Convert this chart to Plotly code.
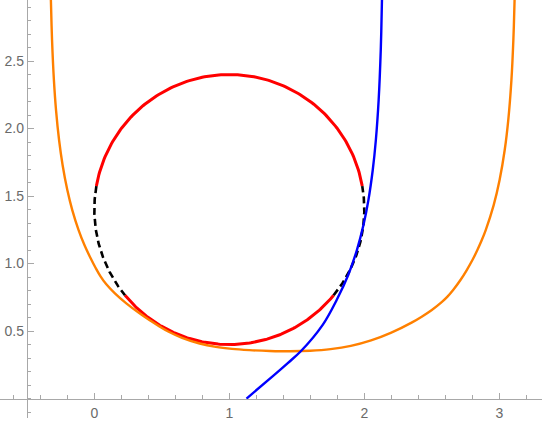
import numpy as np
import plotly.graph_objects as go

# ---- data ----
orange_x = [-0.3239, -0.3216, -0.3130, -0.2992, -0.2835, -0.2610, -0.2349, -0.1998, -0.1631, -0.1163,
            -0.0731, -0.0280, 0.0102, 0.0449, 0.0874, 0.1526, 0.2348, 0.3326, 0.4141, 0.4852,
            0.5474, 0.650, 0.780, 0.900, 1.020, 1.150, 1.300, 1.450, 1.600, 1.750,
            1.900, 2.050, 2.200, 2.350, 2.425, 2.500, 2.575, 2.6175, 2.6593, 2.7121,
            2.7588, 2.8007, 2.8373, 2.8701, 2.8991, 2.9581, 3.0019, 3.0398, 3.0662, 3.0895,
            3.1039, 3.1129, 3.1153]
orange_y = [3.063, 2.952, 2.656, 2.359, 2.137, 1.915, 1.730, 1.544, 1.396, 1.248,
            1.137, 1.041, 0.967, 0.907, 0.848, 0.779, 0.707, 0.633, 0.578, 0.533,
            0.497, 0.450, 0.408, 0.383, 0.368, 0.359, 0.3525, 0.350, 0.3538, 0.3658,
            0.3898, 0.4303, 0.4881, 0.5624, 0.6065, 0.6562, 0.716, 0.757, 0.806, 0.878,
            0.952, 1.026, 1.100, 1.174, 1.248, 1.433, 1.619, 1.841, 2.063, 2.359,
            2.656, 2.952, 3.063]

blue_x = [1.1274, 1.3311, 1.4330, 1.5311, 1.6904, 1.7951, 1.8807, 1.9450, 1.9936, 2.0302,
          2.0624, 2.0854, 2.1061, 2.1217, 2.1306, 2.1324]
blue_y = [0.000, 0.174, 0.263, 0.352, 0.544, 0.730, 0.915, 1.100, 1.285, 1.470,
          1.693, 1.915, 2.211, 2.582, 2.952, 3.063]

circle_center = (1.0, 1.4)
circle_radius = 1.0
red_arcs_deg = [(10.0, 170.0), (219.4, 320.6)]
dashed_arcs_deg = [(170.0, 219.4), (320.6, 370.0)]

x_tick_vals = [0, 1, 2, 3]
x_tick_text = ["0", "1", "2", "3"]
y_tick_vals = [0.5, 1.0, 1.5, 2.0, 2.5]
y_tick_text = ["0.5", "1.0", "1.5", "2.0", "2.5"]

# ---- layout constants ----
W, H = 545, 425
x_range = [-0.6985, 3.316]
y_range = [-0.144, 2.952]
x_dom = [0, 542 / W]
y_dom = [7 / H, 1]
axis_x_at = -0.5   # y axis crosses here
axis_y_at = 0.0    # x axis crosses here

AX_COL = "#a8a8a8"
LBL_COL = "#6a6a6a"


def arc(a0, a1):
    t = np.radians(np.linspace(a0, a1, 160))
    return (circle_center[0] + circle_radius * np.cos(t),
            circle_center[1] + circle_radius * np.sin(t))


fig = go.Figure()

for a0, a1 in red_arcs_deg:
    xs, ys = arc(a0, a1)
    fig.add_trace(go.Scatter(x=xs, y=ys, mode="lines",
                             line=dict(color="#ff0000", width=3), hoverinfo="skip"))
for a0, a1 in dashed_arcs_deg:
    xs, ys = arc(a0, a1)
    fig.add_trace(go.Scatter(x=xs, y=ys, mode="lines",
                             line=dict(color="#000000", width=2.6, dash="7px,4px"), hoverinfo="skip"))

fig.add_trace(go.Scatter(x=orange_x, y=orange_y, mode="lines",
                         line=dict(color="#ff8000", width=2.4, shape="spline", smoothing=1.0),
                         hoverinfo="skip"))
fig.add_trace(go.Scatter(x=blue_x, y=blue_y, mode="lines",
                         line=dict(color="#0000ff", width=2.4, shape="spline", smoothing=1.0),
                         hoverinfo="skip"))

xpos = y_dom[0] + (axis_y_at - y_range[0]) / (y_range[1] - y_range[0]) * (y_dom[1] - y_dom[0])
ypos = x_dom[0] + (axis_x_at - x_range[0]) / (x_range[1] - x_range[0]) * (x_dom[1] - x_dom[0])

tickfont = dict(family="Liberation Sans, Arial, sans-serif", size=14, color=LBL_COL)

fig.update_layout(
    width=W, height=H,
    margin=dict(l=0, r=0, t=0, b=0, pad=0),
    paper_bgcolor="white", plot_bgcolor="white",
    showlegend=False,
    xaxis=dict(range=x_range, domain=x_dom, anchor="free", position=xpos,
               showgrid=False, zeroline=False, showline=True, linecolor=AX_COL, linewidth=1,
               ticks="inside", ticklen=6, tickwidth=1, tickcolor=AX_COL,
               tickmode="array", tickvals=x_tick_vals, ticktext=x_tick_text,
               tickfont=tickfont, automargin=False, fixedrange=True, ticklabelstandoff=2,
               minor=dict(tickmode="linear", tick0=0, dtick=0.2, ticks="inside",
                          ticklen=3.5, tickwidth=1, tickcolor=AX_COL, showgrid=False)),
    yaxis=dict(range=y_range, domain=y_dom, anchor="free", position=ypos,
               showgrid=False, zeroline=False, showline=True, linecolor=AX_COL, linewidth=1,
               ticks="inside", ticklen=6, tickwidth=1, tickcolor=AX_COL,
               tickmode="array", tickvals=y_tick_vals, ticktext=y_tick_text,
               tickfont=tickfont, automargin=False, fixedrange=True,
               minor=dict(tickmode="linear", tick0=0, dtick=0.1, ticks="inside",
                          ticklen=3.5, tickwidth=1, tickcolor=AX_COL, showgrid=False)),
)

fig.write_html("out.html",
               config={"displayModeBar": False, "staticPlot": True},
               post_script="document.body.style.margin='0';document.body.style.overflow='hidden';")
